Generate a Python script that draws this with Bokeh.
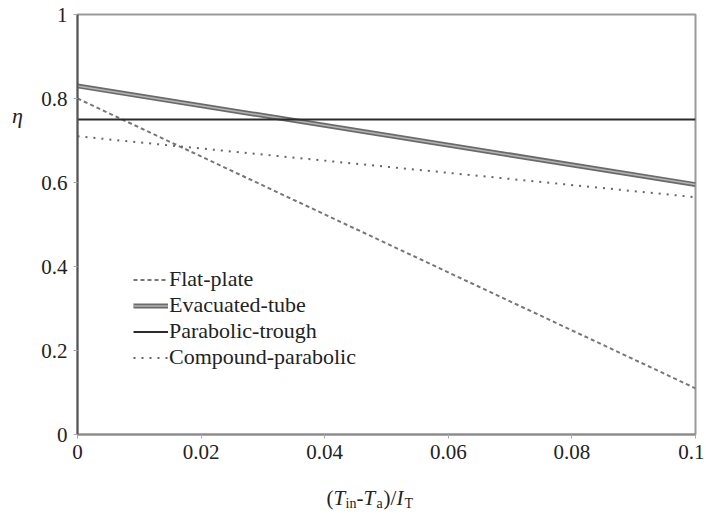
from bokeh.plotting import figure
from bokeh.layouts import row, column
from bokeh.models import Legend, LegendItem, FixedTicker, Range1d, NumeralTickFormatter
from bokeh.core.properties import value
from bokeh.embed import file_html
from bokeh.resources import INLINE

# data
x_vals = [0.0, 0.1]
flat_plate = [0.80, 0.11]
evacuated_tube = [0.83, 0.595]
parabolic_trough = [0.75, 0.75]
compound_parabolic = [0.71, 0.565]

x_ticks = [0, 0.02, 0.04, 0.06, 0.08, 0.1]
y_ticks = [0, 0.2, 0.4, 0.6, 0.8, 1]
tick_format = "0.[00]"

FONT = "'Liberation Serif', serif"
AXIS_FONT = "serif"
TXT = "#222222"

LEFT_W = 27
MAIN_BL, MAIN_BT, MAIN_BR, MAIN_BB = 50, 14, 9, 40
FW, FH = 618, 420
MAIN_H = MAIN_BT + FH + MAIN_BB
TITLE_H = 40

p = figure(frame_width=FW, frame_height=FH,
           x_range=Range1d(0, 0.1), y_range=Range1d(0, 1),
           output_backend="svg", toolbar_location=None,
           min_border_left=MAIN_BL, min_border_top=MAIN_BT,
           min_border_right=MAIN_BR, min_border_bottom=MAIN_BB)

p.xgrid.visible = False
p.ygrid.visible = False
p.outline_line_color = "#9a9a9a"
p.outline_line_width = 2
p.background_fill_color = "white"
p.border_fill_color = "white"

p.xaxis.ticker = FixedTicker(ticks=x_ticks)
p.yaxis.ticker = FixedTicker(ticks=y_ticks)
p.xaxis.formatter = NumeralTickFormatter(format=tick_format)
p.yaxis.formatter = NumeralTickFormatter(format=tick_format)
for ax in (p.xaxis[0], p.yaxis[0]):
    ax.minor_tick_line_color = None
    ax.major_tick_in = 0
    ax.major_tick_out = 4
    ax.major_tick_line_color = "#aaaaaa"
    ax.major_tick_line_width = 1
    ax.major_label_text_font = AXIS_FONT
    ax.major_label_text_font_size = "21px"
    ax.major_label_text_color = TXT
    ax.major_label_standoff = 6
    ax.axis_line_width = 2
p.yaxis.axis_line_color = "#555555"
p.xaxis.axis_line_color = "#8a8a8a"

r_flat = p.line(x_vals, flat_plate, line_color="#777777", line_width=2, line_dash="4 3")
r_evac1 = p.line(x_vals, evacuated_tube, line_color="#6a6a6a", line_width=5)
r_evac2 = p.line(x_vals, evacuated_tube, line_color="#b4b4b4", line_width=1.5)
r_trough = p.line(x_vals, parabolic_trough, line_color="#2a2a2a", line_width=2)
r_comp = p.line(x_vals, compound_parabolic, line_color="#666666", line_width=2, line_dash="2 6")

legend = Legend(items=[
    LegendItem(label="Flat-plate", renderers=[r_flat]),
    LegendItem(label="Evacuated-tube", renderers=[r_evac1, r_evac2]),
    LegendItem(label="Parabolic-trough", renderers=[r_trough]),
    LegendItem(label="Compound-parabolic", renderers=[r_comp]),
], location=(56, 64), padding=0, margin=0, spacing=0,
    glyph_width=35, glyph_height=25, label_height=25, label_standoff=1,
    label_text_font=FONT, label_text_font_size="22px", label_text_color=TXT,
    border_line_color=None, background_fill_color="white", background_fill_alpha=1)
p.add_layout(legend)


def text_fig(w, h):
    f = figure(frame_width=w, frame_height=h, x_range=Range1d(0, w), y_range=Range1d(0, h),
               output_backend="svg", toolbar_location=None,
               min_border_left=0, min_border_right=0, min_border_top=0, min_border_bottom=0)
    f.axis.visible = False
    f.grid.visible = False
    f.outline_line_color = None
    f.background_fill_color = "white"
    f.border_fill_color = "white"
    return f


# y axis label (eta) in a narrow panel to the left
eta_fig = text_fig(LEFT_W, MAIN_H)
eta_fig.text(x=[17], y=[MAIN_H - 115], text=["η"], text_font=value(FONT),
             text_font_style="italic", text_font_size="22px", text_color=TXT,
             text_align="center", text_baseline="middle")

# x axis title: (T_in-T_a)/I_T, built from pieces with sub-scripts
# (its frame is aligned with the main frame by the column layout)
title_fig = text_fig(FW, TITLE_H)
x0 = 326 - (LEFT_W + MAIN_BL)
y_base = 17
y_sub = 11
pieces = [
    ("(", "normal", 21, y_base, 0),
    ("T", "italic", 21, y_base, 7),
    ("in", "normal", 14, y_sub, 19),
    ("-", "normal", 21, y_base, 30),
    ("T", "italic", 21, y_base, 37),
    ("a", "normal", 14, y_sub, 50),
    (")/", "normal", 21, y_base, 57),
    ("I", "italic", 21, y_base, 70),
    ("T", "normal", 14, y_sub, 78),
]
for txt, style, size, yy, off in pieces:
    title_fig.text(x=[x0 + off], y=[yy], text=[txt], text_font=value(FONT),
                   text_font_style=style, text_font_size=f"{size}px", text_color=TXT,
                   text_align="left", text_baseline="alphabetic")

layout = row(eta_fig, column(p, title_fig, spacing=0), spacing=0)

open("out.html", "w").write(file_html(layout, INLINE))
